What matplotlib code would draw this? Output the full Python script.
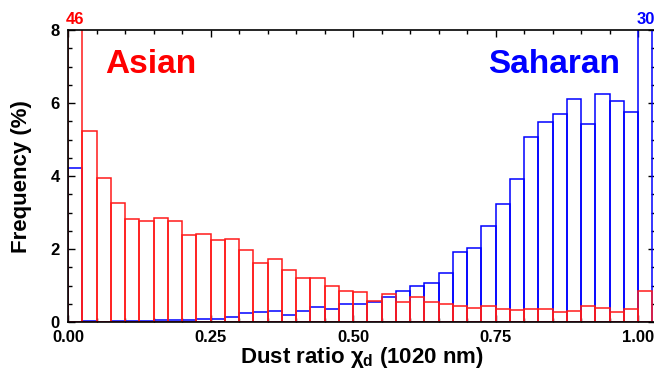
import numpy as np
import matplotlib
matplotlib.use('Agg')
import matplotlib.pyplot as plt
from matplotlib.ticker import MultipleLocator

plt.rcParams['font.family'] = 'Liberation Sans'
plt.rcParams['font.weight'] = 'bold'
plt.rcParams['mathtext.fontset'] = 'custom'
plt.rcParams['mathtext.rm'] = 'Liberation Sans:bold'
plt.rcParams['mathtext.it'] = 'Liberation Sans:bold'
plt.rcParams['mathtext.bf'] = 'Liberation Sans:bold'

# bin left edges, width 0.025 (last bin holds ratio == 1)
bin_width = 0.025
bin_left = np.arange(41) * bin_width

asian = [46.0, 5.25, 3.95, 3.27, 2.83, 2.76, 2.85, 2.78, 2.39, 2.42,
         2.25, 2.28, 1.98, 1.63, 1.74, 1.43, 1.20, 1.20, 0.99, 0.84,
         0.82, 0.57, 0.78, 0.54, 0.68, 0.55, 0.49, 0.43, 0.40, 0.44,
         0.37, 0.34, 0.36, 0.37, 0.27, 0.30, 0.43, 0.40, 0.28, 0.36,
         0.86]
saharan = [4.22, 0.02, 0.01, 0.03, 0.02, 0.03, 0.05, 0.05, 0.05, 0.08,
           0.10, 0.13, 0.26, 0.27, 0.30, 0.20, 0.30, 0.41, 0.36, 0.50,
           0.49, 0.56, 0.68, 0.84, 0.99, 1.08, 1.36, 1.93, 2.02, 2.64,
           3.25, 3.91, 5.07, 5.47, 5.70, 6.12, 5.43, 6.25, 6.05, 5.75,
           30.0]

ymax = 8

fig = plt.figure(figsize=(6.54, 3.72), dpi=100)
ax = fig.add_axes([0.104, 0.134, 0.898, 0.785])

# blue underneath, red on top
ax.bar(bin_left, np.minimum(saharan, ymax + 0.5), width=bin_width, align='edge',
       fill=False, edgecolor='#0000ff', linewidth=1.1, zorder=2)
ax.bar(bin_left, np.minimum(asian, ymax + 0.5), width=bin_width, align='edge',
       fill=False, edgecolor='#ff1a1a', linewidth=1.1, zorder=3)

# values that run off the top
for vals, col in [(asian, '#ff0000'), (saharan, '#0000ff')]:
    for x, v in zip(bin_left, vals):
        if v > ymax:
            ax.text(x + bin_width / 2, ymax + 0.08, f'{v:.0f}', color=col,
                    ha='center', va='bottom', fontsize=12, fontweight='bold')

ax.text(0.065, 7.05, 'Asian', color='#ff0000', fontsize=24, fontweight='bold',
        ha='left', va='center')
ax.text(0.968, 7.05, 'Saharan', color='#0000ff', fontsize=24, fontweight='bold',
        ha='right', va='center')

ax.set_xlim(0, 1.03)
ax.set_ylim(0, ymax)
ax.xaxis.set_major_locator(MultipleLocator(0.25))
ax.xaxis.set_minor_locator(MultipleLocator(0.05))
ax.yaxis.set_major_locator(MultipleLocator(2))
ax.yaxis.set_minor_locator(MultipleLocator(0.5))
ax.xaxis.set_major_formatter(lambda v, p: f'{v:.2f}')
ax.tick_params(which='both', direction='in', top=True, right=True,
               labelsize=12, width=1, pad=6)
ax.tick_params(which='major', length=5)
ax.tick_params(which='minor', length=3)
for lab in ax.get_xticklabels() + ax.get_yticklabels():
    lab.set_fontweight('bold')
for s in ax.spines.values():
    s.set_linewidth(1.2)
    s.set_zorder(5)

ax.set_xlabel(r'Dust ratio $\chi_{d}$ (1020 nm)', fontsize=16,
              fontweight='bold', labelpad=0)
ax.set_ylabel('Frequency (%)', fontsize=16, fontweight='bold', labelpad=13)

fig.savefig('out.png', dpi=100)
